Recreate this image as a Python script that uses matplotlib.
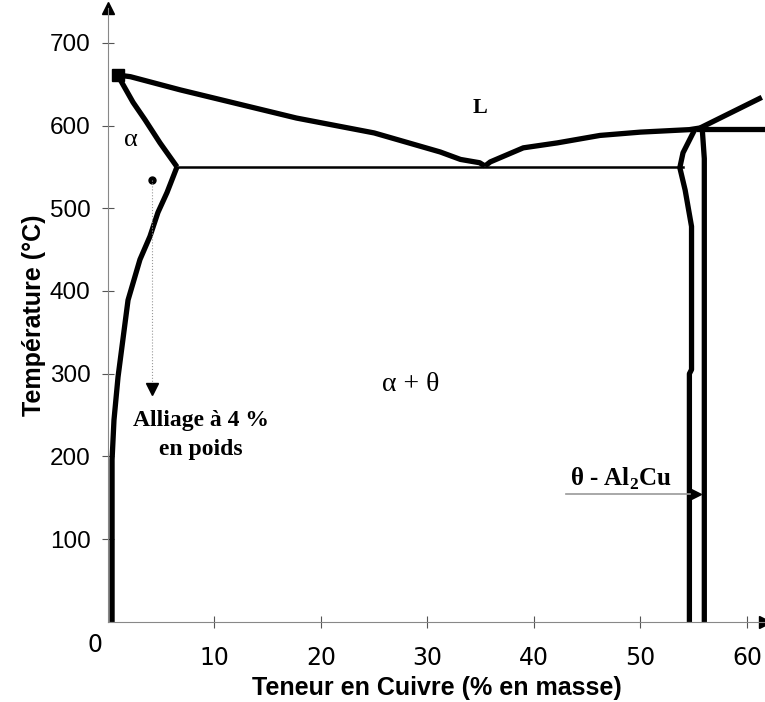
import numpy as np
import matplotlib.pyplot as plt

plt.rcParams['mathtext.fontset'] = 'custom'
plt.rcParams['mathtext.bf'] = 'Liberation Serif:bold'
plt.rcParams['mathtext.rm'] = 'Liberation Serif'

# phase boundaries (% Cu, deg C)
liq_left_x = [0.9, 2.1, 6.8, 17.7, 25.0, 31.2, 33.1, 34.9, 35.4]
liq_left_t = [661, 659, 643, 609, 591, 568, 559, 555, 551]
liq_right_x = [35.4, 35.9, 39.0, 42.2, 46.2, 50.0, 54.6, 55.6]
liq_right_t = [551, 556, 573, 579, 588, 592, 595, 597]
liq_theta_x = [55.6, 61.4]
liq_theta_t = [597, 634]
peri_x = [55.2, 61.7]
peri_t = [596, 596]
solidus_x = [0.9, 2.35, 3.47, 4.88, 6.48]
solidus_t = [661, 628, 607, 579, 550]
solvus_x = [6.48, 5.54, 4.69, 3.94, 3.0, 1.88, 0.94, 0.56, 0.38, 0.38]
solvus_t = [550, 519, 495, 466, 438, 389, 296, 244, 196, 0]
eut_x = [6.48, 54.0]
eut_t = [550, 550]
theta_l_x = [55.1, 54.0, 53.7, 54.2, 54.8, 54.8, 54.6, 54.6]
theta_l_t = [595, 567, 549, 522, 478, 305, 300, 0]
theta_r_x = [55.8, 56.0, 56.0]
theta_r_t = [597, 560, 0]

xticks = [10, 20, 30, 40, 50, 60]
yticks = [100, 200, 300, 400, 500, 600, 700]

fig = plt.figure(figsize=(7.65, 7.02), dpi=100)
ax = fig.add_axes([0.1412, 0.114, 0.8588, 0.8746])
ax.set_xlim(0, 61.7)
ax.set_ylim(0, 742)

lw = 3.8
for xs, ts in [(liq_left_x, liq_left_t), (liq_right_x, liq_right_t),
               (liq_theta_x, liq_theta_t), (peri_x, peri_t),
               (solidus_x, solidus_t), (solvus_x, solvus_t),
               (theta_l_x, theta_l_t), (theta_r_x, theta_r_t)]:
    ax.plot(xs, ts, color='black', lw=lw, solid_capstyle='butt', clip_on=False)
ax.plot(eut_x, eut_t, color='black', lw=1.8)
ax.plot([liq_left_x[0]], [liq_left_t[0]], marker='s', ms=9, color='black')

# 4 % alloy
ax.plot([4.13], [534], marker='o', ms=5, color='black')
ax.plot([4.13, 4.13], [534, 285], color='#999999', lw=0.8, ls=':')
ax.plot([4.13], [282], marker='v', ms=8, color='black')

# theta arrow
ax.plot([43.0, 55.0], [155, 155], color='#999999', lw=1.2)
ax.plot([55.2], [155], marker='>', ms=7, color='black')

serif = 'Liberation Serif'
ax.text(34.9, 621, 'L', fontsize=16, fontweight='bold', family=serif, ha='center', va='center')
ax.text(2.1, 583, 'α', fontsize=19, family=serif, ha='center', va='center')
ax.text(28.4, 287, 'α + θ', fontsize=20, family=serif, ha='center', va='center')
ax.text(8.7, 243, 'Alliage à 4 %', fontsize=17, fontweight='bold', family=serif, ha='center', va='center')
ax.text(8.7, 208, 'en poids', fontsize=17, fontweight='bold', family=serif, ha='center', va='center')
ax.text(48.2, 173, r'θ - Al$_{\mathbf{2}}$Cu', fontsize=18, fontweight='bold', family=serif, ha='center', va='center')

for s in ['top', 'right']:
    ax.spines[s].set_visible(False)
ax.spines['left'].set_color('#888888')
ax.spines['bottom'].set_color('#888888')
ax.plot([0], [742], marker='^', ms=9, color='black', clip_on=False)
ax.plot([61.7], [0], marker='>', ms=9, color='black', clip_on=False)

narrow = ['Liberation Sans Narrow', 'DejaVu Sans']
ax.set_xticks(xticks)
ax.set_xticklabels([str(v) for v in xticks], family=narrow, fontsize=17)
ax.set_yticks(yticks)
ax.set_yticklabels([str(v) for v in yticks], family='Liberation Sans', fontsize=17.5)
ax.tick_params(axis='both', direction='inout', length=9, color='#555555')
ax.tick_params(axis='x', pad=13)
ax.tick_params(axis='y', pad=8)
ax.text(-1.2, -28, '0', fontsize=17, family=narrow, ha='center', va='center')

ax.set_xlabel('Teneur en Cuivre (% en masse)', fontsize=18, fontweight='bold', family='Liberation Sans', labelpad=4)
ax.set_ylabel('Température (°C)', fontsize=18, fontweight='bold', family='Liberation Sans', labelpad=3)

fig.savefig('out.png', dpi=100)
